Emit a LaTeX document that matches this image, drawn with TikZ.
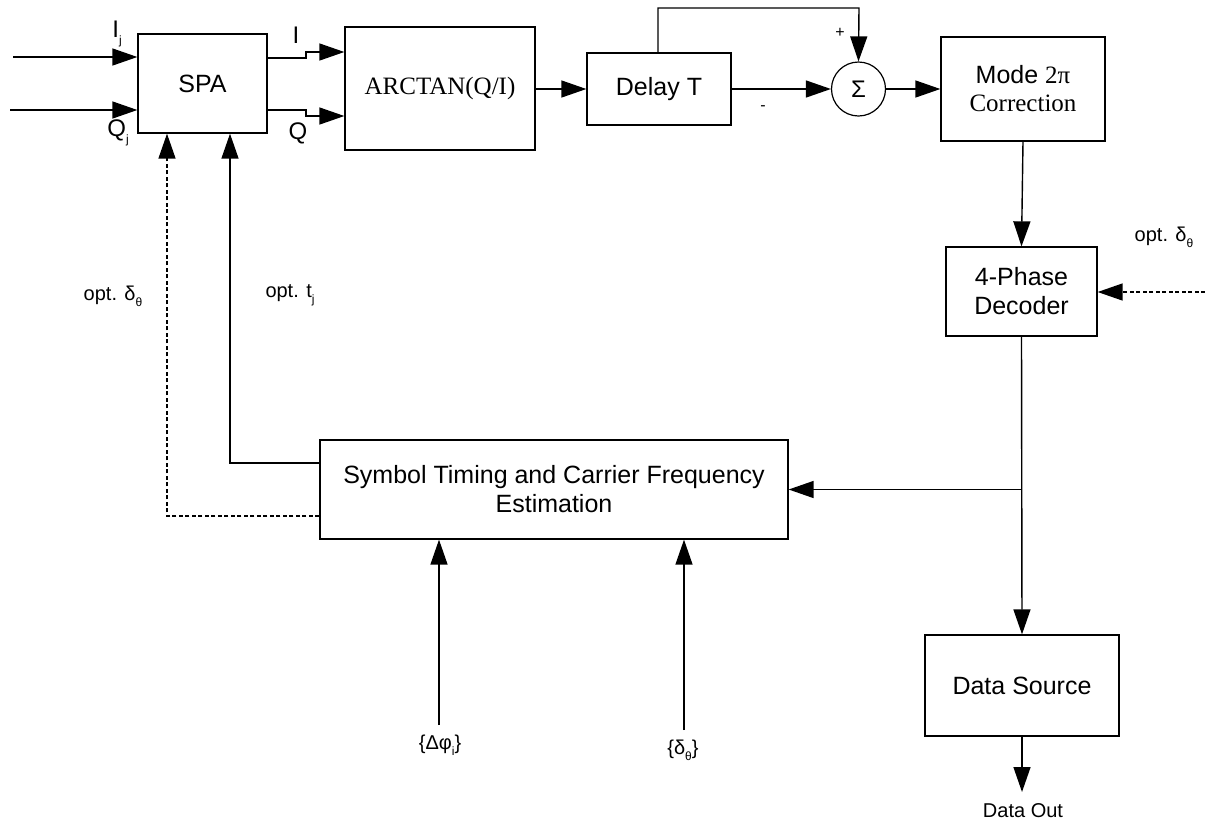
\documentclass[tikz,border=0pt]{standalone}
\usepackage{fontspec}
\setmainfont{Liberation Sans}
\newfontfamily\seriffont{Liberation Serif}
\usetikzlibrary{arrows.meta}
\newcommand{\sbs}[1]{\raisebox{-0.55ex}{\fontsize{12}{12}\selectfont #1}}
\tikzset{
  box/.style={draw, line width=1.3pt, inner sep=0pt, align=center, font=\fontsize{25}{29}\selectfont},
  ln/.style={line width=1.4pt},
  arr/.style={line width=1.4pt, -{Triangle[length=25pt,width=17pt]}},
  darr/.style={arr, dash pattern=on 4pt off 2.5pt},
  lbl/.style={inner sep=0pt, font=\fontsize{20}{24}\selectfont},
  biglbl/.style={inner sep=0pt, font=\fontsize{24}{28}\selectfont},
}
\begin{document}
\begin{tikzpicture}[x=1pt,y=-1pt]
\useasboundingbox (0,0) rectangle (1205,823);
% blocks
\node[box, minimum width=129pt, minimum height=99pt] (spa) at (202.5,83.5) {SPA};
\node[box, minimum width=190pt, minimum height=123pt, font=\fontsize{25}{29}\seriffont] (arc) at (440,88.5) {ARCTAN(Q/I)};
\node[box, minimum width=144pt, minimum height=72pt] (del) at (659,89) {Delay T};
\node[draw, circle, line width=1.2pt, minimum size=54pt, inner sep=0pt, font=\fontsize{24}{28}\selectfont] (sum) at (858.5,89) {Σ};
\node[box, minimum width=164pt, minimum height=104pt] (mod) at (1023,89) {Mode {\seriffont 2π}\\[-1pt]{\seriffont Correction}};
\node[box, minimum width=151pt, minimum height=89pt] (dec) at (1021.5,291.5) {4-Phase\\Decoder};
\node[box, minimum width=468pt, minimum height=99pt] (sym) at (554,489.5) {Symbol Timing and Carrier Frequency\\Estimation};
\node[box, minimum width=194pt, minimum height=101pt] (ds) at (1022,685.5) {Data Source};
% free ends and bends
\coordinate (ij) at (13,57);
\coordinate (qj) at (10,110);
\coordinate (ib1) at (306,58);
\coordinate (ib2) at (306,52);
\coordinate (qb1) at (306,110);
\coordinate (qb2) at (306,116);
\coordinate (fb1) at (658,8);
\coordinate (fb2) at (859,8);
\coordinate (tj) at (230,463);
\coordinate (de) at (167,516);
\coordinate (dphi) at (439,725);
\coordinate (dth) at (684,730);
\coordinate (rin) at (1205,292);
\coordinate (out) at (1022,792);
\coordinate (jn) at (dec.south |- sym.east);
% connectors
\draw[arr] (ij) -- (spa.west |- ij);
\draw[arr] (qj) -- (spa.west |- qj);
\draw[arr] (spa.east |- ib1) -- (ib1) -- (ib2) -- (arc.west |- ib2);
\draw[arr] (spa.east |- qb1) -- (qb1) -- (qb2) -- (arc.west |- qb2);
\draw[arr] (arc.east |- del.west) -- (del.west);
\draw[arr] (del.east) -- (sum.west);
\draw[arr] (del.north -| fb1) -- (fb1) -- (fb2) -- (sum.north);
\draw[arr] (sum.east) -- (mod.west);
\draw[arr] (mod.south) -- (dec.north);
\draw[darr] (rin) -- (dec.east |- rin);
\draw[arr] (dec.south) -- (ds.north);
\draw[arr] (jn) -- (sym.east);
\draw[arr] (ds.south) -- (out);
\draw[arr] (sym.west |- tj) -- (tj) -- (spa.south -| tj);
\draw[darr] (sym.west |- de) -- (de) -- (spa.south -| de);
\draw[arr] (dphi) -- (sym.south -| dphi);
\draw[arr] (dth) -- (sym.south -| dth);
% labels
\node[biglbl] (lij) at (117,34) {I\sbs{j}};
\node[biglbl] (lqj) at (118,133) {Q\sbs{j}};
\node[biglbl] (li) at (296,35) {I};
\node[biglbl] (lq) at (298,133) {Q};
\node[lbl, font=\fontsize{16}{18}\selectfont] (lplus) at (840,33) {+};
\node[lbl, font=\fontsize{16}{18}\selectfont] (lminus) at (763,108) {-};
\node[lbl] (lde1) at (113,296) {opt. δ\sbs{θ}};
\node[lbl] (ltj) at (290,295) {opt. t\sbs{j}};
\node[lbl] (lde2) at (1164,237) {opt. δ\sbs{θ}};
\node[lbl] (ldphi) at (440,745) {\{Δφ\sbs{i}\}};
\node[lbl] (ldth) at (683,750) {\{δ\sbs{θ}\}};
\node[lbl] (ldo) at (1023,811) {Data Out};
\end{tikzpicture}
\end{document}
